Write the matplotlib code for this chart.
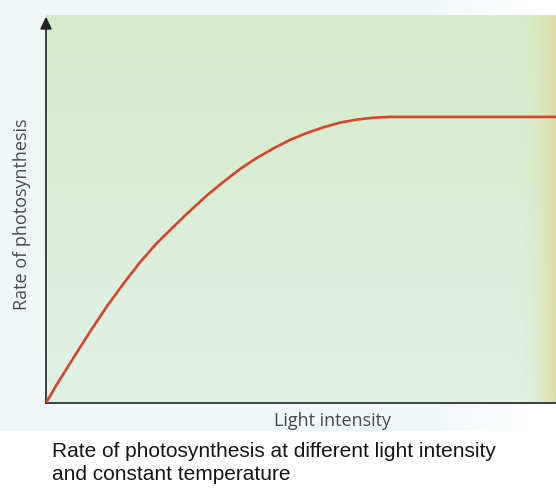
import numpy as np
import matplotlib
matplotlib.use("Agg")
import matplotlib.pyplot as plt
from matplotlib.patches import Polygon

# Light-response curve (arbitrary units)
light = [0, 2.1, 5.4, 8.6, 11.9, 15.2, 18.4, 21.7, 25.0, 28.2, 31.5, 34.8,
         38.0, 41.3, 44.6, 47.8, 51.1, 54.4, 57.6, 60.9, 64.2, 67.5, 100]
rate = [0, 4.8, 11.8, 18.5, 25.1, 31.1, 36.6, 41.6, 45.9, 50.0, 54.0, 57.6,
        60.9, 63.8, 66.3, 68.5, 70.3, 71.8, 73.0, 73.8, 74.3, 74.5, 74.5]

x_label = "Light intensity"
y_label = "Rate of photosynthesis"
caption = ["Rate of photosynthesis at different light intensity",
           "and constant temperature"]

W, H = 556, 489
fig = plt.figure(figsize=(W / 100, H / 100), dpi=100)
fig.patch.set_facecolor("white")

# Page background in pixel coordinates
bg = fig.add_axes([0, 0, 1, 1])
bg.set_xlim(0, W)
bg.set_ylim(H, 0)
bg.axis("off")

# pale margin around the printed panel, fading to white towards the right
margin = np.ones((H, W, 3))
pale = np.array([240, 247, 249]) / 255
fade = np.clip((np.arange(W) - 420) / 110, 0, 1)[None, :, None]
margin[:432, :, :] = pale * (1 - fade) + 1.0 * fade
bg.imshow(margin, extent=(0, W, H, 0), zorder=0, aspect="auto")

# green printed panel with vertical shade and a yellowish edge on the right
x0, x1, y0, y1 = 46, W, 16, 404
ny, nx = y1 - y0, x1 - x0
t = np.linspace(0, 1, ny)[:, None, None]
top = np.array([214, 234, 200]) / 255
bot = np.array([225, 242, 230]) / 255
panel = top * (1 - t) + bot * t
panel = np.repeat(panel, nx, axis=1)
edge = np.clip((np.arange(nx) - (nx - 38)) / 38, 0, 1)[None, :, None] ** 1.6
tan = np.array([222, 220, 168]) / 255
panel = panel * (1 - edge) + tan * edge
bg.imshow(panel, extent=(x0, x1, y1, y0), zorder=1, aspect="auto")

# Data axes
ax = fig.add_axes([46 / W, (H - 404) / H, 510 / W, 384 / H])
ax.set_xlim(0, 100)
ax.set_ylim(0, 100)
ax.patch.set_alpha(0)
for s in ("top", "right"):
    ax.spines[s].set_visible(False)
for s in ("left", "bottom"):
    ax.spines[s].set_color("#3a423c")
    ax.spines[s].set_linewidth(1.4)
ax.set_xticks([])
ax.set_yticks([])

ax.plot(light, rate, color="#d8432c", lw=1.9, solid_capstyle="round",
        solid_joinstyle="round", zorder=3)

# arrow head on the vertical axis
ax.add_patch(Polygon([[-1.0, 97.4], [1.0, 97.4], [0, 100.2]], closed=True,
                     transform=ax.transData, color="#222222", clip_on=False,
                     zorder=4))

fig.text(332 / W, 1 - 421 / H, x_label, ha="center", va="center",
         fontsize=13, color="#4a4a4a", family="Open Sans")
fig.text(22 / W, 1 - 214 / H, y_label, ha="center", va="center",
         rotation=90, fontsize=13, color="#4a4a4a", family="Open Sans")

fig.text(52 / W, 1 - 452 / H, caption[0], ha="left", va="center",
         fontsize=15, color="#151515", family="Liberation Sans")
fig.text(52 / W, 1 - 475 / H, caption[1], ha="left", va="center",
         fontsize=15, color="#151515", family="Liberation Sans")

fig.savefig("out.png", dpi=100, facecolor="white")
